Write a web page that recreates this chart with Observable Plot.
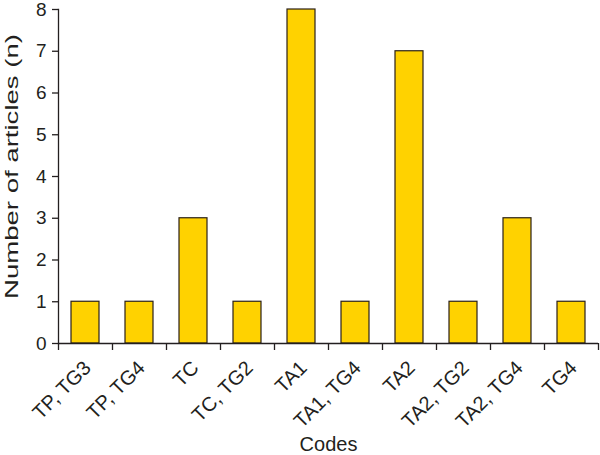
<!DOCTYPE html>
<html>
<head>
<meta charset="utf-8">
<script src="https://cdn.jsdelivr.net/npm/d3@7"></script>
<script src="https://cdn.jsdelivr.net/npm/@observablehq/plot@0.6"></script>
<style>
  html, body { margin: 0; padding: 0; background: #fff; }
  svg { overflow: visible; }
</style>
</head>
<body>
<div id="chart"></div>
<script>
const codes = ["TP, TG3", "TP, TG4", "TC", "TC, TG2", "TA1", "TA1, TG4", "TA2", "TA2, TG2", "TA2, TG4", "TG4"];
const counts = [1, 1, 3, 1, 8, 1, 7, 1, 3, 1];
const yTicks = [0, 1, 2, 3, 4, 5, 6, 7, 8];
const xTitle = "Codes";
const yTitle = "Number of articles (n)";

const data = codes.map((c, i) => ({code: c, n: counts[i]}));
const ink = "#231f20";

const chart = Plot.plot({
  width: 600,
  height: 455,
  marginLeft: 58,
  marginRight: 2,
  marginTop: 9,
  marginBottom: 112,
  style: {fontFamily: "'Liberation Sans', Arial, sans-serif", fontSize: "20px", color: ink, background: "#fff", overflow: "visible"},
  x: {domain: codes, padding: 0, label: null},
  y: {domain: [0, 8], label: null},
  marks: [
    Plot.barY(data, {x: "code", y: "n", fill: "#FFD200", stroke: "#2b2118", strokeWidth: 1.2, insetLeft: 13, insetRight: 13}),
    Plot.axisY({ticks: yTicks, tickSize: 6, tickPadding: 6, label: null, stroke: ink, fill: ink, strokeWidth: 1.3, fontSize: 19}),
    Plot.axisX({tickSize: 0, tickRotate: -45, tickPadding: 21, dx: 2, label: null, fill: ink, fontSize: 20}),
    Plot.axisX({text: null, tickSize: 7, dx: -27, label: null, stroke: ink, strokeWidth: 1.3}),
    Plot.axisX({ticks: [codes[codes.length - 1]], text: null, tickSize: 7, dx: 27, label: null, stroke: ink, strokeWidth: 1.3}),
    Plot.ruleY([0], {stroke: ink, strokeWidth: 1.3}),
    Plot.frame({anchor: "left", stroke: ink, strokeWidth: 1.3}),
    Plot.text([yTitle], {frameAnchor: "left", textAnchor: "middle", lineAnchor: "middle", dx: -47, dy: -10, rotate: -90, fill: ink, fontSize: 19}),
    Plot.text([xTitle], {frameAnchor: "bottom", textAnchor: "middle", lineAnchor: "middle", dy: 101, fill: ink, fontSize: 20})
  ]
});
// the reference's y title is drawn stretched along its length
d3.select(chart).selectAll("text")
  .filter(function () { return this.textContent === yTitle; })
  .attr("textLength", 265)
  .attr("lengthAdjust", "spacingAndGlyphs");
document.getElementById("chart").appendChild(chart);
</script>
</body>
</html>
